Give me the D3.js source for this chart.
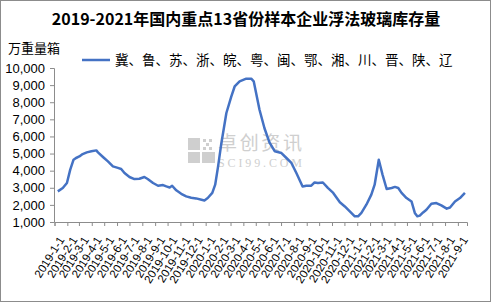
<!DOCTYPE html>
<html>
<head>
<meta charset="utf-8">
<script src="https://cdn.jsdelivr.net/npm/d3@7"></script>
<style>
  body { margin: 0; background: #fff; }
  svg { display: block; }
</style>
</head>
<body>
<script>
// weekly inventory readings (万重量箱)
var dates = ['2019-01-09','2019-01-21','2019-01-31','2019-02-08','2019-02-16','2019-02-22','2019-03-02','2019-03-10','2019-03-20','2019-03-31',
  '2019-04-12','2019-04-16','2019-04-28','2019-05-10','2019-05-22','2019-06-03','2019-06-11','2019-06-19','2019-07-01','2019-07-13',
  '2019-07-25','2019-08-06','2019-08-14','2019-08-27','2019-09-08','2019-09-20','2019-09-28','2019-10-06','2019-10-12','2019-10-22',
  '2019-11-03','2019-11-15','2019-11-27','2019-12-09','2019-12-22','2019-12-29','2020-01-06','2020-01-17','2020-01-24','2020-01-31',
  '2020-02-08','2020-02-20','2020-03-03','2020-03-11','2020-03-23','2020-04-08','2020-04-20','2020-04-26','2020-05-10','2020-05-22',
  '2020-06-03','2020-06-16','2020-07-02','2020-07-14','2020-07-26','2020-08-07','2020-08-22','2020-08-31','2020-09-12','2020-09-20',
  '2020-09-28','2020-10-10','2020-10-22','2020-11-04','2020-11-20','2020-12-02','2020-12-14','2020-12-26','2021-01-03','2021-01-11',
  '2021-01-23','2021-02-04','2021-02-12','2021-02-22','2021-03-03','2021-03-13','2021-03-25','2021-04-02','2021-04-10','2021-04-18',
  '2021-04-30','2021-05-12','2021-05-20','2021-05-26','2021-06-01','2021-06-09','2021-06-17','2021-06-29','2021-07-11','2021-07-23',
  '2021-08-05','2021-08-13','2021-08-25','2021-09-06','2021-09-18']
var values = [2790,2990,3280,4060,4640,4740,4830,4970,5070,5130,
  5185,5070,4800,4540,4250,4160,4100,3860,3630,3510,
  3530,3630,3510,3280,3120,3160,3080,3020,3120,2850,
  2650,2500,2420,2380,2300,2260,2400,2700,3180,4250,
  5620,7370,8340,8920,9220,9375,9375,9220,7560,6480,
  5650,5130,5030,4740,4450,3860,3080,3120,3120,3310,
  3280,3310,2990,2700,2150,1910,1620,1330,1330,1530,
  2010,2600,3180,4640,3770,2930,2990,3050,2990,2700,
  2400,2200,1530,1330,1370,1560,1720,2070,2110,1970,
  1780,1850,2200,2400,2700]

var xTickLabels = ['2019-1-1','2019-2-1','2019-3-1','2019-4-1','2019-5-1','2019-6-1','2019-7-1','2019-8-1','2019-9-1','2019-10-1','2019-11-1','2019-12-1',
  '2020-1-1','2020-2-1','2020-3-1','2020-4-1','2020-5-1','2020-6-1','2020-7-1','2020-8-1','2020-9-1','2020-10-1','2020-11-1','2020-12-1',
  '2021-1-1','2021-2-1','2021-3-1','2021-4-1','2021-5-1','2021-6-1','2021-7-1','2021-8-1','2021-9-1']
var yTicks = [1000,2000,3000,4000,5000,6000,7000,8000,9000,10000]
var legendLabel = '冀、鲁、苏、浙、皖、粤、闽、鄂、湘、川、晋、陕、辽'

var W = 493, H = 304
var parse = d3.timeParse('%Y-%m-%d')
var data = dates.map(function(d, i){ return {date: parse(d), value: values[i]} })
var tickDates = xTickLabels.map(function(t){ return parse(t.replace(/-(\d)(?=-|$)/g, '-0$1')) })

var svg = d3.select('body').append('svg')
  .attr('width', W)
  .attr('height', H)

svg.append('rect')
   .attr('x', 0.5).attr('y', 0.5)
   .attr('width', 490).attr('height', 301)
   .attr('fill', '#fff')
   .attr('stroke', '#8c8c8c')

var x = d3.scaleTime()
  .domain([parse('2019-01-01'), parse('2021-09-23')])
  .range([54.5, 467])
var y = d3.scaleLinear()
  .domain([1000, 10000])
  .range([222, 68])

// watermark
var wm = svg.append('g').attr('fill', '#cfcfcf')
wm.append('rect').attr('x', 188).attr('y', 138).attr('width', 12).attr('height', 12)
wm.append('rect').attr('x', 188).attr('y', 152).attr('width', 12).attr('height', 11)
wm.append('rect').attr('x', 202).attr('y', 152).attr('width', 13).attr('height', 11)
wm.append('rect').attr('x', 203).attr('y', 139).attr('width', 3).attr('height', 3)
wm.append('rect').attr('x', 209).attr('y', 139).attr('width', 3).attr('height', 3)
wm.append('rect').attr('x', 206).attr('y', 143).attr('width', 3).attr('height', 3)
wm.append('rect').attr('x', 203).attr('y', 147).attr('width', 3).attr('height', 3)
wm.append('rect').attr('x', 209).attr('y', 147).attr('width', 3).attr('height', 3)
wm.append('text')
  .attr('x', 218).attr('y', 150)
  .attr('font-family', 'Noto Sans CJK SC')
  .attr('font-size', '19px')
  .attr('textLength', 84)
  .text('卓创资讯')
wm.append('text')
  .attr('x', 218).attr('y', 167)
  .attr('font-family', 'Liberation Serif')
  .attr('font-size', '12px')
  .attr('textLength', 84)
  .text('SCI99.COM')

// axes
var yAxis = svg.append('g')
  .attr('transform', 'translate(54,0)')
  .call(d3.axisLeft(y).tickValues(yTicks).tickSize(4).tickPadding(5).tickFormat(d3.format(',')))
var xAxis = svg.append('g')
  .attr('transform', 'translate(0,222)')
  .call(d3.axisBottom(x).tickValues(tickDates).tickSize(4).tickFormat(function(d, i){ return xTickLabels[i] }))

svg.selectAll('.domain, .tick line').attr('stroke', '#8c8c8c')
yAxis.selectAll('text')
  .attr('font-family', 'Liberation Sans, Arial')
  .attr('font-size', '13px')
  .attr('fill', '#000')
xAxis.selectAll('text')
  .attr('font-family', 'Liberation Sans, Arial')
  .attr('font-size', '11.5px')
  .attr('fill', '#000')
  .attr('text-anchor', 'end')
  .attr('dx', 0).attr('dy', 0)
  .attr('transform', 'translate(4,14) rotate(-58)')

// series
var line = d3.line()
  .x(function(d){ return x(d.date) })
  .y(function(d){ return y(d.value) })

svg.append('path')
   .datum(data)
   .attr('fill', 'none')
   .attr('stroke', '#4472c4')
   .attr('stroke-width', 2.5)
   .attr('stroke-linejoin', 'round')
   .attr('d', line)

// title, unit, legend
svg.append('text')
   .attr('x', 246).attr('y', 25)
   .attr('text-anchor', 'middle')
   .attr('font-family', 'Noto Sans CJK SC')
   .attr('font-weight', 'bold')
   .attr('font-size', '16px')
   .text('2019-2021年国内重点13省份样本企业浮法玻璃库存量')

svg.append('text')
   .attr('x', 8).attr('y', 53)
   .attr('font-family', 'Noto Sans CJK SC')
   .attr('font-size', '13px')
   .text('万重量箱')

svg.append('line')
   .attr('x1', 82).attr('x2', 110)
   .attr('y1', 60).attr('y2', 60)
   .attr('stroke', '#4472c4')
   .attr('stroke-width', 2.5)
svg.append('text')
   .attr('x', 115).attr('y', 65)
   .attr('font-family', 'Noto Sans CJK SC')
   .attr('font-size', '13.5px')
   .text(legendLabel)
</script>
</body>
</html>
